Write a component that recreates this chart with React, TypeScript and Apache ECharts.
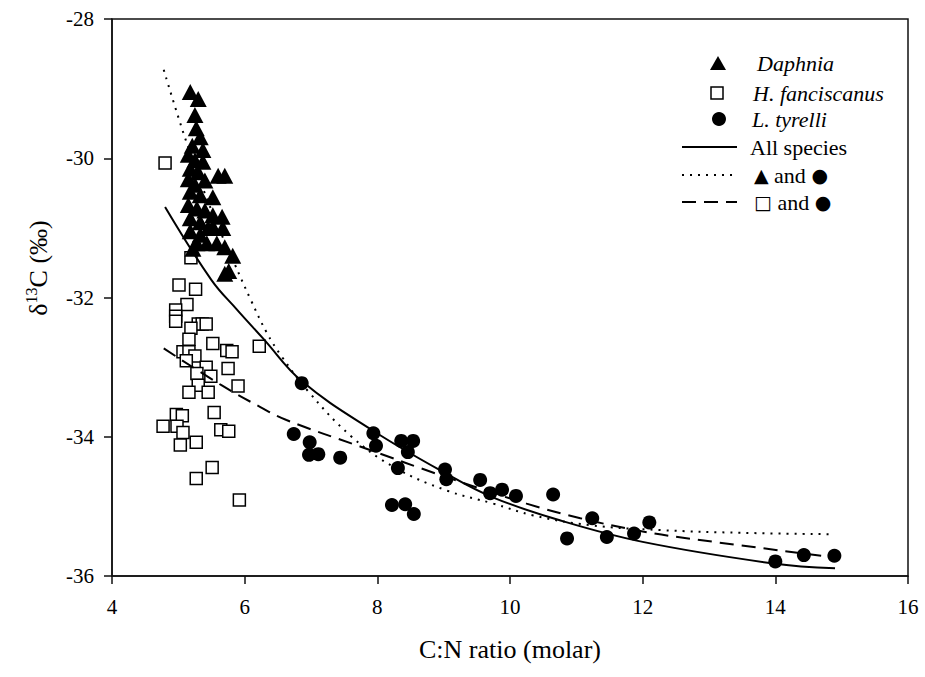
import React, { useEffect, useRef } from "react";
import * as echarts from "echarts";

const FONT = "Liberation Serif";
const SYM = "DejaVu Sans";

const xTicks = [4, 6, 8, 10, 12, 14, 16];
const yTicks = [-36, -34, -32, -30, -28];

// Daphnia (triangles)
const daphnia: [number, number][] = [
  [5.18, -29.05], [5.3, -29.15], [5.25, -29.38], [5.27, -29.57], [5.33, -29.7],
  [5.21, -29.82], [5.37, -29.88], [5.15, -29.95], [5.25, -30.03], [5.37, -30.05],
  [5.18, -30.15], [5.3, -30.2], [5.15, -30.3], [5.25, -30.38], [5.4, -30.32],
  [5.6, -30.25], [5.7, -30.25], [5.18, -30.48], [5.33, -30.53], [5.52, -30.56],
  [5.15, -30.67], [5.28, -30.72], [5.4, -30.75], [5.18, -30.86], [5.33, -30.92],
  [5.52, -30.82], [5.66, -30.84], [5.52, -30.98], [5.67, -31.0], [5.18, -31.05],
  [5.33, -31.1], [5.28, -31.22], [5.43, -31.22], [5.58, -31.22], [5.7, -31.28],
  [5.82, -31.4], [5.7, -31.66], [5.76, -31.62], [5.22, -31.3], [5.45, -31.0],
];

// H. fanciscanus (open squares)
const hfanciscanus: [number, number][] = [
  [4.8, -30.07], [5.19, -31.43], [5.01, -31.82], [5.26, -31.88], [5.13, -32.1],
  [4.96, -32.18], [4.96, -32.27], [4.96, -32.34], [5.3, -32.38], [5.36, -32.38],
  [5.42, -32.38], [5.19, -32.44], [5.16, -32.6], [5.52, -32.66], [6.22, -32.7],
  [5.07, -32.78], [5.16, -32.78], [5.25, -32.84], [5.12, -32.91], [5.73, -32.76],
  [5.81, -32.78], [5.42, -33.0], [5.28, -33.09], [5.49, -33.13], [5.75, -33.02],
  [5.9, -33.27], [5.3, -33.26], [5.16, -33.36], [5.45, -33.36], [5.54, -33.65],
  [4.97, -33.68], [5.06, -33.7], [4.77, -33.85], [4.98, -33.85], [5.07, -33.94],
  [5.03, -34.12], [5.27, -34.08], [5.64, -33.9], [5.76, -33.92], [5.51, -34.44],
  [5.27, -34.6], [5.92, -34.91],
];

// L. tyrelli (filled circles)
const ltyrelli: [number, number][] = [
  [6.86, -33.23], [6.74, -33.96], [6.98, -34.08], [6.97, -34.26], [7.11, -34.25],
  [7.44, -34.3], [7.94, -33.95], [7.98, -34.13], [8.36, -34.06], [8.54, -34.06],
  [8.46, -34.22], [8.31, -34.45], [8.22, -34.98], [8.42, -34.97], [8.55, -35.11],
  [9.02, -34.47], [9.04, -34.61], [9.55, -34.62], [9.7, -34.81], [9.88, -34.76],
  [10.09, -34.85], [10.65, -34.83], [10.86, -35.46], [11.24, -35.17], [11.46, -35.44],
  [11.87, -35.39], [12.1, -35.23], [14.0, -35.79], [14.43, -35.7], [14.89, -35.71],
];

// Fitted curves
const fitAll: [number, number][] = [
  [4.8, -30.7], [5.5, -31.75], [5.88, -32.17], [6.28, -32.59], [6.86, -33.2],
  [7.93, -33.91], [9.02, -34.52], [9.74, -34.87], [10.75, -35.2], [12.0, -35.51],
  [13.97, -35.82], [14.9, -35.89],
];
const fitDaphTyr: [number, number][] = [
  [4.78, -28.73], [5.13, -29.79], [5.5, -30.75], [5.84, -31.5], [6.1, -32.05],
  [6.33, -32.5], [6.56, -32.85], [6.96, -33.35], [7.59, -33.98], [8.24, -34.43],
  [9.04, -34.77], [9.75, -34.96], [10.35, -35.13], [11.2, -35.27], [12.26, -35.34],
  [13.5, -35.38], [14.87, -35.4],
];
const fitHfTyr: [number, number][] = [
  [4.78, -32.73], [5.65, -33.26], [6.23, -33.57], [6.63, -33.76], [7.74, -34.14],
  [9.04, -34.58], [10.25, -34.96], [11.06, -35.17], [12.0, -35.36], [12.76, -35.47],
  [14.87, -35.73],
];

export default function App() {
  const ref = useRef<HTMLDivElement>(null);
  useEffect(() => {
    if (!ref.current) return;
    const chart = echarts.init(ref.current, null, { renderer: "svg" });
    const axisCommon = {
      axisLine: { show: true, onZero: false, lineStyle: { color: "#111", width: 1.5 } },
      axisTick: { show: true, inside: false, length: 8, lineStyle: { color: "#111", width: 1.5 } },
      splitLine: { show: false },
    };
    const lbl = { color: "#000", fontFamily: FONT, fontSize: 21 };
    const lineSeries = (data: [number, number][], type: any, width: number) => ({
      type: "line",
      data,
      smooth: 0.4,
      showSymbol: false,
      symbol: "none",
      z: 4,
      lineStyle: { color: "#000", width, type },
    });
    const legText = (x: number, y: number, text: string, italic: boolean) => ({
      type: "text", x, y,
      style: {
        text, fontFamily: FONT, fontStyle: italic ? "italic" : "normal", fontSize: 22,
        fill: "#000", verticalAlign: "middle",
      },
    });
    const symText = (x: number, y: number, text: string) => ({
      type: "text", x, y,
      style: {
        text, verticalAlign: "middle",
        rich: {
          g: { fontFamily: SYM, fontSize: 19, fill: "#000" },
          t: { fontFamily: FONT, fontSize: 22, fill: "#000" },
        },
      },
    });
    chart.setOption({
      animation: false,
      backgroundColor: "#fff",
      textStyle: { fontFamily: FONT },
      grid: {
        left: 112, right: 17, top: 19, bottom: 101,
        show: true, borderColor: "#111", borderWidth: 1.5, backgroundColor: "transparent",
      },
      xAxis: {
        type: "value", min: xTicks[0], max: xTicks[xTicks.length - 1], interval: 2,
        ...axisCommon,
        axisLabel: { ...lbl, margin: 20 },
        name: "C:N ratio (molar)", nameLocation: "middle", nameGap: 60,
        nameTextStyle: { color: "#000", fontFamily: FONT, fontSize: 26 },
      },
      yAxis: {
        type: "value", min: yTicks[0], max: yTicks[yTicks.length - 1], interval: 2,
        ...axisCommon,
        axisLabel: { ...lbl, margin: 18 },
      },
      series: [
        {
          type: "scatter", name: "Daphnia", data: daphnia, symbol: "triangle",
          symbolSize: [17, 16], itemStyle: { color: "#000", opacity: 1 }, z: 3,
        },
        {
          type: "scatter", name: "H. fanciscanus", data: hfanciscanus, symbol: "rect",
          symbolSize: 12, itemStyle: { color: "#fff", borderColor: "#000", borderWidth: 1.5, opacity: 1 }, z: 2,
        },
        {
          type: "scatter", name: "L. tyrelli", data: ltyrelli, symbol: "circle",
          symbolSize: 14, itemStyle: { color: "#000", opacity: 1 }, z: 3,
        },
        lineSeries(fitAll, "solid", 2),
        lineSeries(fitDaphTyr, [2, 6], 2),
        lineSeries(fitHfTyr, [14, 8], 2),
      ],
      graphic: [
        {
          type: "text", x: 38, y: 268, rotation: Math.PI / 2,
          style: {
            text: "{a|δ}{s|13}{a|C (‰)}",
            align: "center", verticalAlign: "middle",
            rich: {
              a: { fontFamily: FONT, fontSize: 26, fill: "#000", lineHeight: 30, verticalAlign: "middle" },
              s: { fontFamily: FONT, fontSize: 16, fill: "#000", lineHeight: 30, verticalAlign: "top" },
            },
          },
        },
        // legend
        { type: "polygon", shape: { points: [[710, 70], [726, 70], [718, 56]] }, style: { fill: "#000" } },
        { type: "rect", shape: { x: 711, y: 87, width: 12, height: 12 }, style: { fill: "#fff", stroke: "#000", lineWidth: 1.5 } },
        { type: "circle", shape: { cx: 719, cy: 119, r: 7 }, style: { fill: "#000" } },
        { type: "line", shape: { x1: 682, y1: 147, x2: 737, y2: 147 }, style: { stroke: "#000", lineWidth: 2 } },
        { type: "line", shape: { x1: 682, y1: 175, x2: 737, y2: 175 }, style: { stroke: "#000", lineWidth: 2, lineDash: [2, 6] } },
        { type: "line", shape: { x1: 682, y1: 202, x2: 737, y2: 202 }, style: { stroke: "#000", lineWidth: 2, lineDash: [14, 8] } },
        legText(757, 63, "Daphnia", true),
        legText(753, 93, "H. fanciscanus", true),
        legText(752, 119, "L. tyrelli", true),
        legText(750, 147, "All species", false),
        symText(754, 175, "{g|▲}{t| and }{g|●}"),
        symText(754, 202, "{g|□}{t| and }{g|●}"),
      ],
    });
    return () => chart.dispose();
  }, []);
  return <div ref={ref} style={{ width: 925, height: 677, position: "absolute", left: 0, top: 0 }} />;
}
